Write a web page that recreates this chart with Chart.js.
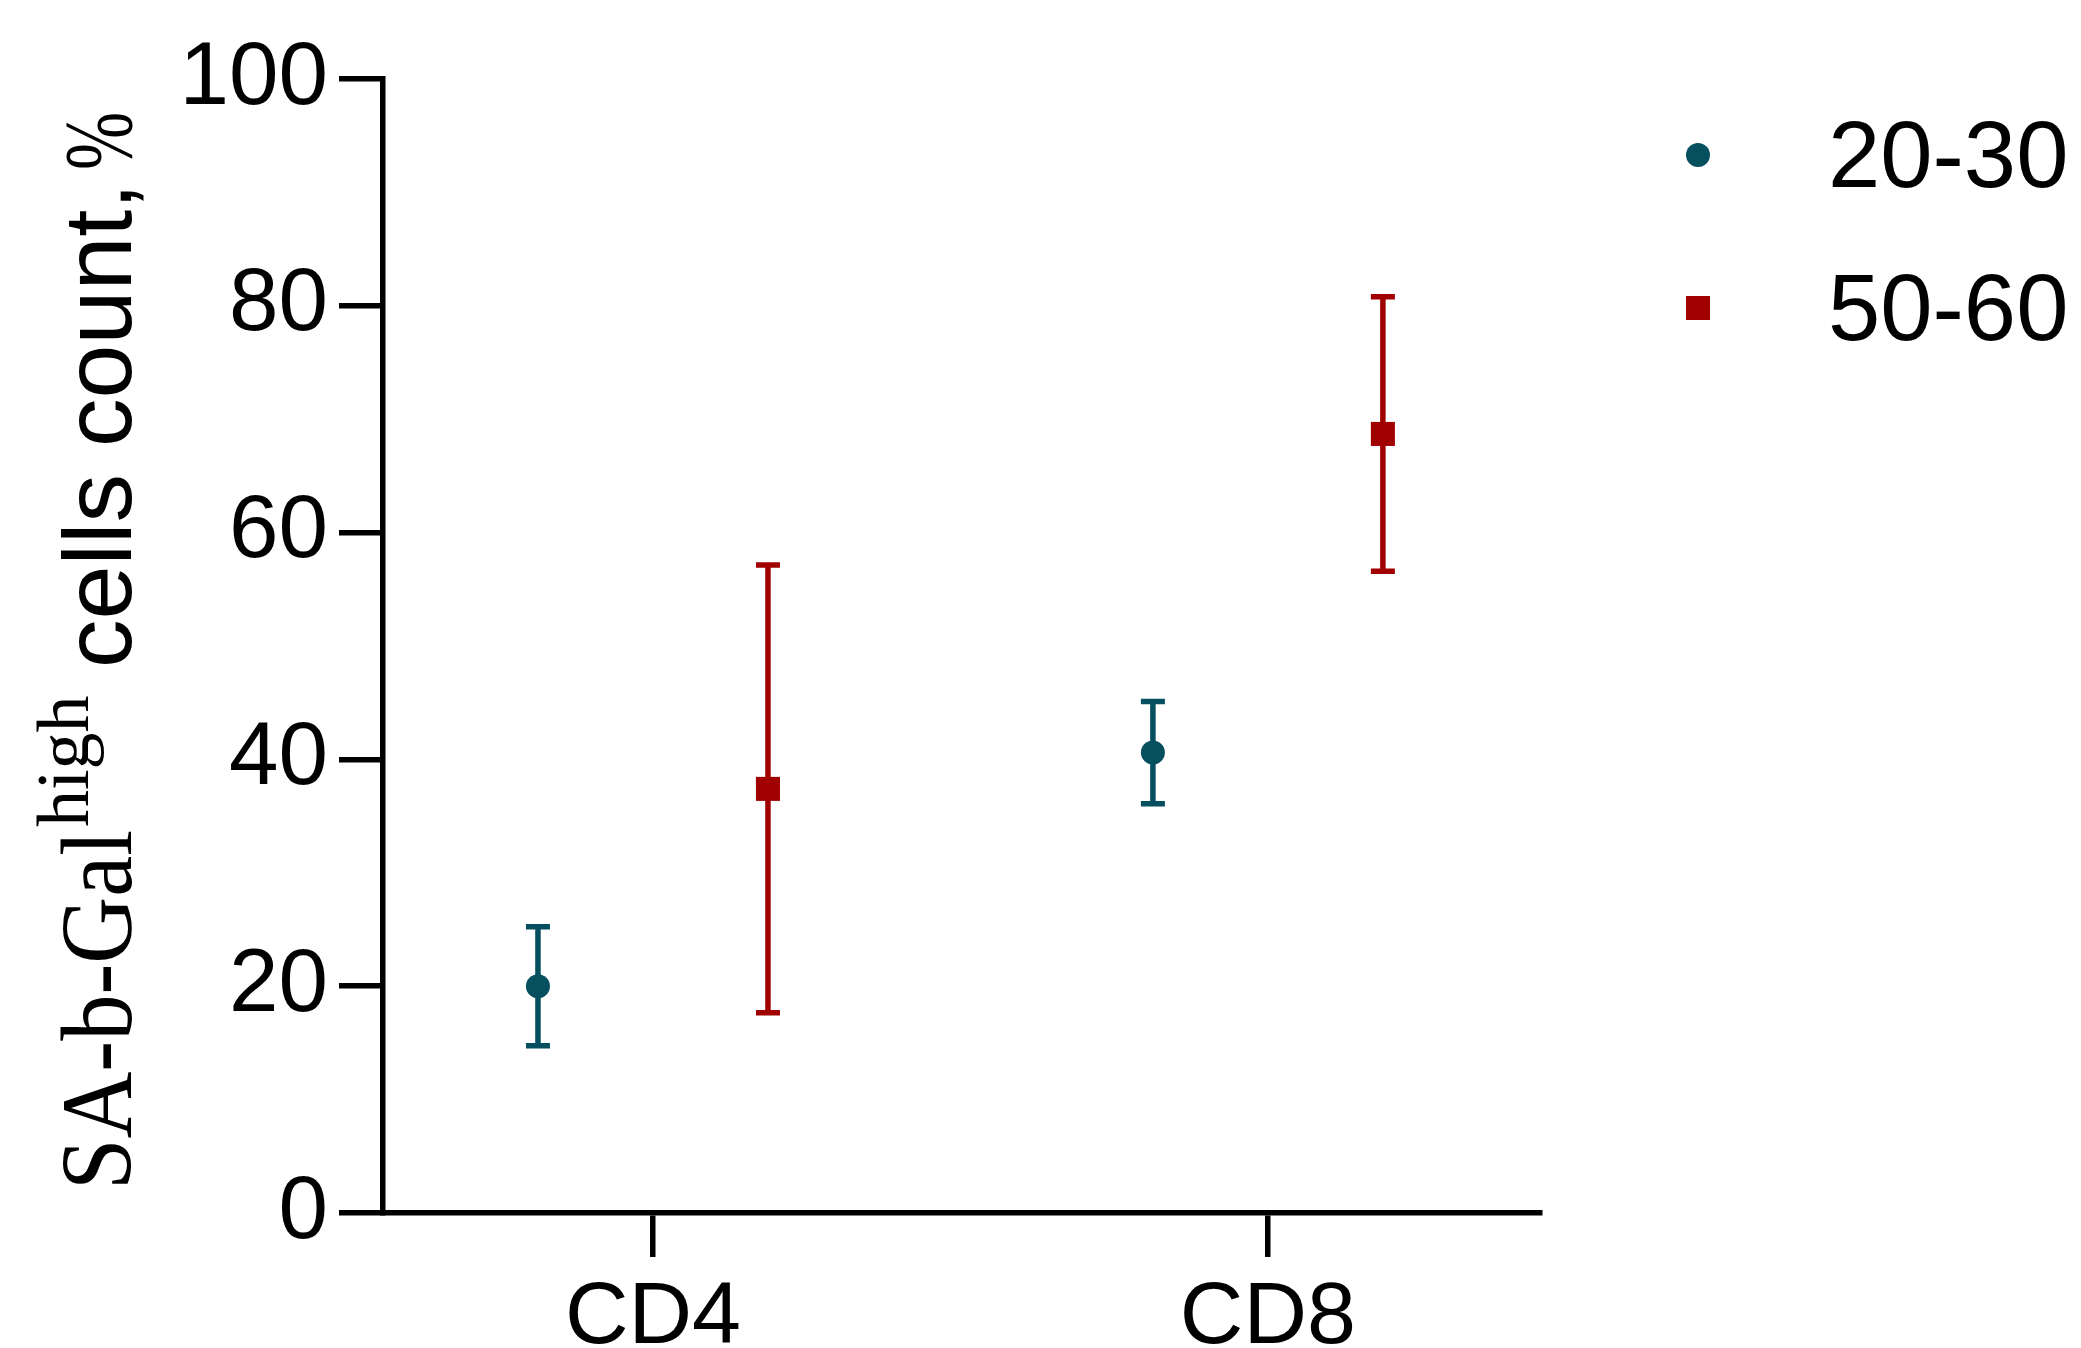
<!DOCTYPE html>
<html>
<head>
<meta charset="utf-8">
<style>
  html, body { margin: 0; padding: 0; background: #ffffff; }
  #wrap { width: 2081px; height: 1348px; }
</style>
<script src="https://cdn.jsdelivr.net/npm/chart.js@4.4.1/dist/chart.umd.min.js"></script>
</head>
<body>
<div id="wrap"><canvas id="c" width="2081" height="1348"></canvas></div>
<script>
// ---- data ----
const categories = ['CD4', 'CD8'];
const seriesLabels = ['20-30', '50-60'];
const means2030 = [20.0, 40.6];
const errors2030 = [5.25, 4.5];
const means5060 = [37.4, 68.7];
const errors5060 = [19.75, 12.1];
const yTickValues = [0, 20, 40, 60, 80, 100];

// ---- styles ----
const TEAL = '#054F5F';
const RED = '#A00000';
const GROUP_OFFSET = 0.187;
const X_MIN = 0.561, X_MAX = 2.4425;
const LINE_W = 5.5;

function buildPoints(means, errs, shift) {
  return categories.map((c, i) => ({ x: i + 1 + shift, y: means[i], err: errs[i] }));
}

const errorBarPlugin = {
  id: 'errorBars',
  beforeDatasetsDraw(chart) {
    const ctx = chart.ctx;
    const xs = chart.scales.x, ys = chart.scales.y;
    chart.data.datasets.forEach(ds => {
      ctx.save();
      ctx.strokeStyle = ds.backgroundColor;
      ctx.lineWidth = LINE_W;
      ctx.lineCap = 'butt';
      ds.data.forEach(p => {
        const px = xs.getPixelForValue(p.x);
        const top = ys.getPixelForValue(p.y + p.err);
        const bot = ys.getPixelForValue(p.y - p.err);
        const half = 12;
        ctx.beginPath();
        ctx.moveTo(px, top); ctx.lineTo(px, bot);
        ctx.moveTo(px - half, top); ctx.lineTo(px + half, top);
        ctx.moveTo(px - half, bot); ctx.lineTo(px + half, bot);
        ctx.stroke();
      });
      ctx.restore();
    });
  }
};

const legendPlugin = {
  id: 'customLegend',
  afterDraw(chart) {
    const ctx = chart.ctx;
    ctx.save();
    const rows = [
      { y: 155, base: 187 },
      { y: 308, base: 340 }
    ];
    chart.data.datasets.forEach((ds, i) => {
      const r = rows[i];
      ctx.fillStyle = ds.backgroundColor;
      if (ds.pointStyle === 'rect') {
        ctx.fillRect(1698 - 12, r.y - 12, 24, 24);
      } else {
        ctx.beginPath();
        ctx.arc(1698, r.y, 12, 0, Math.PI * 2);
        ctx.fill();
      }
      ctx.fillStyle = '#000';
      ctx.font = '94px "Liberation Sans", Arial, sans-serif';
      ctx.textAlign = 'left';
      ctx.textBaseline = 'alphabetic';
      ctx.fillText(ds.label, 1828, r.base);
    });
    ctx.restore();
  }
};

const yTitlePlugin = {
  id: 'yTitle',
  afterDraw(chart) {
    const ctx = chart.ctx;
    ctx.save();
    ctx.translate(131, 1190);
    ctx.rotate(-Math.PI / 2);
    ctx.fillStyle = '#000';
    ctx.textAlign = 'left';
    ctx.textBaseline = 'alphabetic';
    ctx.font = '102px "Liberation Serif", "Times New Roman", serif';
    ctx.fillText('SA-b-Gal', 0, 0, 360);
    ctx.font = '74px "Liberation Serif", "Times New Roman", serif';
    ctx.fillText('high', 363, -43, 134);
    ctx.font = '97px "Liberation Sans", Arial, sans-serif';
    const s = 'cells count,';
    ctx.fillText(s, 522, 0);
    const w = ctx.measureText(s).width;
    ctx.font = '98px "Liberation Serif", "Times New Roman", serif';
    ctx.fillText('%', Math.max(522 + w + 10, 1020), 0, 58);
    ctx.restore();
  }
};

Chart.defaults.font.family = '"Liberation Sans", Arial, sans-serif';
Chart.defaults.color = '#000';

new Chart(document.getElementById('c'), {
  type: 'scatter',
  data: {
    datasets: [
      {
        label: seriesLabels[0],
        data: buildPoints(means2030, errors2030, -GROUP_OFFSET),
        backgroundColor: TEAL,
        borderColor: TEAL,
        borderWidth: 0,
        pointStyle: 'circle',
        pointRadius: 12,
        pointHoverRadius: 12
      },
      {
        label: seriesLabels[1],
        data: buildPoints(means5060, errors5060, GROUP_OFFSET),
        backgroundColor: RED,
        borderColor: RED,
        borderWidth: 0,
        pointStyle: 'rect',
        pointRadius: 17,
        pointHoverRadius: 17
      }
    ]
  },
  options: {
    responsive: false,
    devicePixelRatio: 1,
    animation: false,
    events: [],
    layout: { padding: { left: 0, top: 79, right: 541, bottom: 0 } },
    plugins: {
      legend: { display: false },
      title: { display: false },
      tooltip: { enabled: false }
    },
    scales: {
      x: {
        type: 'linear',
        min: X_MIN,
        max: X_MAX,
        afterBuildTicks(scale) {
          scale.ticks = categories.map((c, i) => ({ value: i + 1 }));
        },
        afterFit(scale) { scale.height = 1348 - 1213; },
        ticks: {
          callback: (v) => categories[Math.round(v) - 1] || '',
          font: { size: 88 },
          color: '#000',
          padding: 9,
          maxRotation: 0,
          autoSkip: false
        },
        grid: {
          drawOnChartArea: false,
          drawTicks: true,
          tickLength: 44,
          color: '#000',
          lineWidth: LINE_W
        },
        border: { display: true, color: '#000', width: LINE_W }
      },
      y: {
        type: 'linear',
        min: 0,
        max: 100,
        afterBuildTicks(scale) {
          scale.ticks = yTickValues.map(v => ({ value: v }));
        },
        afterFit(scale) { scale.width = 383; },
        ticks: {
          font: { size: 89 },
          color: '#000',
          padding: 11
        },
        grid: {
          drawOnChartArea: false,
          drawTicks: true,
          tickLength: 44,
          color: '#000',
          lineWidth: LINE_W
        },
        border: { display: true, color: '#000', width: LINE_W }
      }
    }
  },
  plugins: [errorBarPlugin, legendPlugin, yTitlePlugin]
});
</script>
</body>
</html>
